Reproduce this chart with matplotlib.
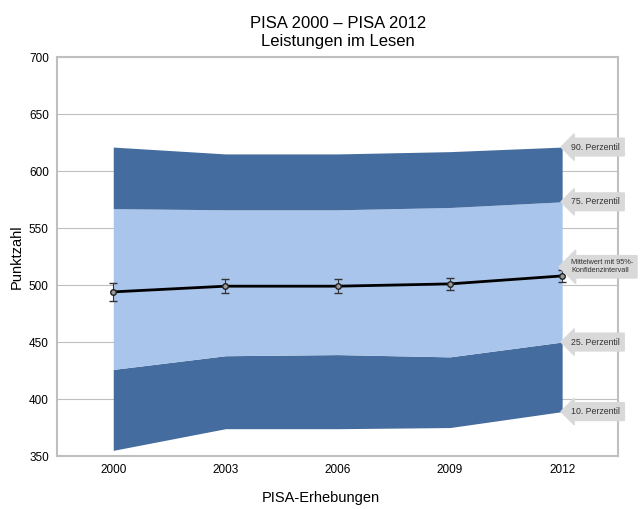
import matplotlib.pyplot as plt
import numpy as np

plt.rcParams['font.family'] = ['Liberation Sans', 'DejaVu Sans']

# PISA reading scores
years = ["2000", "2003", "2006", "2009", "2012"]
p10 = [355, 374, 374, 375, 389]
p25 = [426, 438, 439, 437, 450]
p75 = [567, 566, 566, 568, 573]
p90 = [621, 615, 615, 617, 621]
mean = [494, 499, 499, 501, 508]
ci = [8, 6, 6, 5, 5]

dark = "#456C9E"
light = "#A9C5EB"

fig = plt.figure(figsize=(6.42, 5.09), dpi=100)
ax = fig.add_axes([0.089, 0.104, 0.874, 0.784])
x = np.arange(len(years))

ax.fill_between(x, p10, p25, color=dark, lw=0, zorder=2)
ax.fill_between(x, p25, p75, color=light, lw=0, zorder=2)
ax.fill_between(x, p75, p90, color=dark, lw=0, zorder=2)

ax.errorbar(x, mean, yerr=ci, color="black", lw=2, ecolor="#333333", elinewidth=0.8,
            capsize=3, capthick=0.8, marker="o", ms=4, mfc="#999999", mec="#222222",
            mew=1, zorder=4)

ax.set_xlim(-0.5, 4.5)
ax.set_ylim(350, 700)
ax.set_yticks(range(350, 701, 50))
ax.set_xticks(x)
ax.set_xticklabels(years)
ax.tick_params(length=0, labelsize=8.5, pad=6)
ax.grid(axis="y", color="#BFBFBF", lw=0.8, zorder=1)
for s in ax.spines.values():
    s.set_color("#BFBFBF")
    s.set_linewidth(1.5)

ax.set_title("PISA 2000 – PISA 2012\nLeistungen im Lesen", fontsize=12, pad=8)
ax.set_ylabel("Punktzahl", fontsize=10.5)
fig.text(0.5, 0.008, "PISA-Erhebungen", fontsize=10.5, ha="center", va="bottom")

# callouts at the 2012 end
labels = [("90. Perzentil", p90[-1]), ("75. Perzentil", p75[-1]),
          ("Mittelwert mit 95%-\nKonfidenzintervall", mean[-1] + 8),
          ("25. Perzentil", p25[-1]), ("10. Perzentil", p10[-1])]
for txt, yv in labels:
    ax.annotate(txt, xy=(4.0, yv), xytext=(4.08, yv), fontsize=6.3 if "\n" not in txt else 5.3,
                color="#333333", va="center", ha="left", annotation_clip=False, zorder=5,
                bbox=dict(boxstyle="larrow,pad=0.5", fc="#D9D9D9", ec="#D9D9D9"))

plt.savefig("out.png", dpi=100)
